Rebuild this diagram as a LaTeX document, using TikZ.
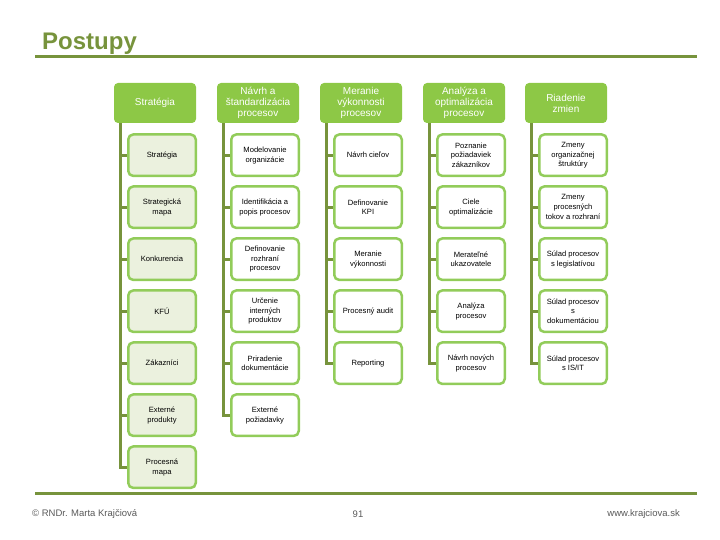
\documentclass[tikz,border=0pt]{standalone}
\usepackage{fontspec}
\setmainfont{Liberation Sans}
\usepackage{tikz}
\usetikzlibrary{positioning}
\definecolor{olive}{RGB}{119,147,60}
\definecolor{headgreen}{RGB}{141,200,70}
\definecolor{boxgreen}{RGB}{146,204,90}
\definecolor{palegreen}{RGB}{235,241,222}
\definecolor{footgray}{RGB}{89,89,89}

\begin{document}
\begin{tikzpicture}[x=1pt,y=-1pt,
    head/.style={fill=headgreen,draw=none,rounded corners=4pt,
                 minimum width=82pt,minimum height=40pt,inner sep=1pt,align=center,
                 text=white,font=\fontsize{10}{11}\selectfont},
    item/.style={draw=boxgreen,line width=2.5pt,fill=white,rounded corners=5pt,
                 minimum width=67.5pt,minimum height=41.5pt,inner sep=1pt,align=center,
                 font=\fontsize{7.6}{9.8}\selectfont},
    firstcol/.style={item,fill=palegreen},
    tree/.style={olive,line width=3pt},
    foot/.style={font=\fontsize{9.5}{11}\selectfont,text=footgray}
  ]
    \useasboundingbox (0,0) rectangle (720,540);

    % title and rules
    \node[anchor=west,inner sep=0pt,text=olive,font=\fontsize{24}{26}\selectfont\bfseries]
      (title) at (42,44) {Postupy};
    \draw[olive,line width=3pt] (35,57) -- (697,57);
    \draw[olive,line width=3pt] (35,493) -- (697,493);

    % column heads
    \node[head] (str) at (155,103) {Stratégia};
    \node[head] (nav) at (258,103) {Návrh a\\štandardizácia\\procesov};
    \node[head] (mer) at (361,103) {Meranie\\výkonnosti\\procesov};
    \node[head] (ana) at (464,103) {Analýza a\\optimalizácia\\procesov};
    \node[head] (ria) at (566,103) {Riadenie\\zmien};

    % Strategia
    \node[firstcol,below=10pt of str,xshift=7pt] (s1) {Stratégia};
    \node[firstcol,below=8pt of s1] (s2) {Strategická\\mapa};
    \node[firstcol,below=8pt of s2] (s3) {Konkurencia};
    \node[firstcol,below=8pt of s3] (s4) {KFÚ};
    \node[firstcol,below=8pt of s4] (s5) {Zákazníci};
    \node[firstcol,below=8pt of s5] (s6) {Externé\\produkty};
    \node[firstcol,below=8pt of s6] (s7) {Procesná\\mapa};

    % Navrh
    \node[item,below=10pt of nav,xshift=7pt] (n1) {Modelovanie\\organizácie};
    \node[item,below=8pt of n1] (n2) {Identifikácia a\\popis procesov};
    \node[item,below=8pt of n2] (n3) {Definovanie\\rozhraní\\procesov};
    \node[item,below=8pt of n3] (n4) {Určenie\\interných\\produktov};
    \node[item,below=8pt of n4] (n5) {Priradenie\\dokumentácie};
    \node[item,below=8pt of n5] (n6) {Externé\\požiadavky};

    % Meranie
    \node[item,below=10pt of mer,xshift=7pt] (m1) {Návrh cieľov};
    \node[item,below=8pt of m1] (m2) {Definovanie\\KPI};
    \node[item,below=8pt of m2] (m3) {Meranie\\výkonnosti};
    \node[item,below=8pt of m3] (m4) {Procesný audit};
    \node[item,below=8pt of m4] (m5) {Reporting};

    % Analyza
    \node[item,below=10pt of ana,xshift=7pt] (a1) {Poznanie\\požiadaviek\\zákazníkov};
    \node[item,below=8pt of a1] (a2) {Ciele\\optimalizácie};
    \node[item,below=8pt of a2] (a3) {Merateľné\\ukazovatele};
    \node[item,below=8pt of a3] (a4) {Analýza\\procesov};
    \node[item,below=8pt of a4] (a5) {Návrh nových\\procesov};

    % Riadenie
    \node[item,below=10pt of ria,xshift=7pt] (r1) {Zmeny\\organizačnej\\štruktúry};
    \node[item,below=8pt of r1] (r2) {Zmeny\\procesných\\tokov a rozhraní};
    \node[item,below=8pt of r2] (r3) {Súlad procesov\\s legislatívou};
    \node[item,below=8pt of r3] (r4) {Súlad procesov\\s\\dokumentáciou};
    \node[item,below=8pt of r4] (r5) {Súlad procesov\\s IS/IT};

    % tree lines
    \coordinate (strt) at ([xshift=7pt]str.south west);
    \coordinate (navt) at ([xshift=7pt]nav.south west);
    \coordinate (mert) at ([xshift=7pt]mer.south west);
    \coordinate (anat) at ([xshift=7pt]ana.south west);
    \coordinate (riat) at ([xshift=7pt]ria.south west);
    \draw[tree] (strt) |- (s1.west) (strt) |- (s2.west) (strt) |- (s3.west)
      (strt) |- (s4.west) (strt) |- (s5.west) (strt) |- (s6.west) (strt) |- (s7.west);
    \draw[tree] (navt) |- (n1.west) (navt) |- (n2.west) (navt) |- (n3.west)
      (navt) |- (n4.west) (navt) |- (n5.west) (navt) |- (n6.west);
    \draw[tree] (mert) |- (m1.west) (mert) |- (m2.west) (mert) |- (m3.west)
      (mert) |- (m4.west) (mert) |- (m5.west);
    \draw[tree] (anat) |- (a1.west) (anat) |- (a2.west) (anat) |- (a3.west)
      (anat) |- (a4.west) (anat) |- (a5.west);
    \draw[tree] (riat) |- (r1.west) (riat) |- (r2.west) (riat) |- (r3.west)
      (riat) |- (r4.west) (riat) |- (r5.west);

    % footer
    \node[foot,anchor=west,inner sep=0pt] (author) at (32,514) {© RNDr. Marta Krajčiová};
    \node[foot,inner sep=0pt] (page) at (358,514) {91};
    \node[foot,anchor=east,inner sep=0pt] (web) at (680,514) {www.krajciova.sk};
\end{tikzpicture}
\end{document}
